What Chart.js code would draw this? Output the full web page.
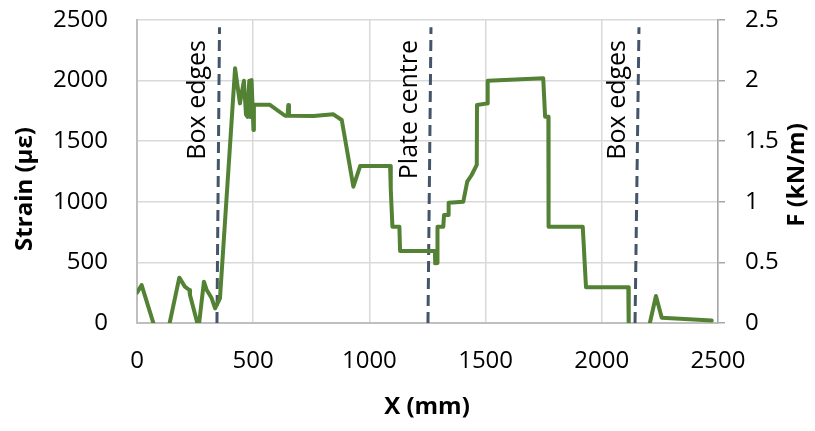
<!DOCTYPE html>
<html>
<head>
<meta charset="utf-8">
<script src="https://cdn.jsdelivr.net/npm/chart.js@4"></script>
<style>
  body { margin: 0; background: #fff; }
</style>
</head>
<body>
<canvas id="myChart" width="815" height="431"></canvas>
<script>
// position along the plate (mm) and measured strain (microstrain)
const xValues = [0, 20, 80, 135, 182, 206, 225, 228, 265, 288, 300, 321, 336, 357, 422, 443, 460, 469, 476, 483,
  488, 493, 501, 503, 572, 637, 648, 651, 654, 759, 845, 881, 931, 960, 1089, 1092, 1099, 1129, 1132, 1282,
  1283, 1292, 1293, 1318, 1321, 1340, 1341, 1404, 1421, 1440, 1462, 1463, 1508, 1509, 1748, 1756, 1770, 1771, 1918, 1932,
  2114, 2116, 2195, 2233, 2258, 2473];
const strainValues = [250, 313, -60, -50, 374, 300, 272, 231, -40, 341, 272, 206, 121, 204, 2101, 1812, 1999, 1720, 1700, 1999,
  1700, 2005, 1592, 1800, 1800, 1710, 1710, 1798, 1710, 1707, 1722, 1675, 1125, 1295, 1295, 1100, 795, 795, 594, 594,
  492, 495, 795, 795, 891, 891, 993, 1001, 1166, 1221, 1304, 1799, 1812, 1999, 2019, 1702, 1702, 795, 795, 295,
  295, -100, -100, 223, 44, 20];

// vertical dashed markers (bottom x, top x)
const markerNames = ["Box edges", "Plate centre", "Box edges"];
const markerBottomX = [344, 1252, 2143];
const markerTopX = [355, 1265, 2160];
const markerY = [0, 2440];
const markerLabelX = [262, 1175, 2070];
const markerLabelTop = 2335;

const xTicks = [0, 500, 1000, 1500, 2000, 2500];
const strainTicks = [0, 500, 1000, 1500, 2000, 2500];
const forceTicks = [0, 0.5, 1, 1.5, 2, 2.5];

const fontName = "'Open Sans', 'Liberation Sans', sans-serif";

const strainData = xValues.map((x, i) => ({ x: x, y: strainValues[i] }));

const datasets = [
  {
    label: "Strain",
    data: strainData,
    borderColor: "#548235",
    borderWidth: 4,
    borderJoinStyle: "round",
    borderCapStyle: "round",
    pointRadius: 0,
    tension: 0,
    yAxisID: "y",
  },
];
markerNames.forEach((name, i) => {
  datasets.push({
    label: name,
    data: [
      { x: markerBottomX[i], y: markerY[0] },
      { x: markerTopX[i], y: markerY[1] },
    ],
    borderColor: "#44546A",
    borderWidth: 3,
    borderDash: [11, 6],
    pointRadius: 0,
    yAxisID: "y",
  });
});

// fixed box sizes so the plot area lands where it is in the original
function fixBox(size) {
  return (s) => {
    if (s.isHorizontal()) s.height = size;
    else s.width = size;
    s.paddingTop = 0;
    s.paddingBottom = 0;
    s.paddingLeft = 0;
    s.paddingRight = 0;
  };
}

const textPlugin = {
  id: "texts",
  afterDraw(chart) {
    const ctx = chart.ctx;
    const xs = chart.scales.x;
    const ys = chart.scales.y;
    ctx.save();
    ctx.fillStyle = "#000";

    // marker labels, rotated
    ctx.font = "25px " + fontName;
    ctx.textAlign = "right";
    ctx.textBaseline = "middle";
    markerNames.forEach((name, i) => {
      ctx.save();
      ctx.translate(xs.getPixelForValue(markerLabelX[i]), ys.getPixelForValue(markerLabelTop));
      ctx.rotate(-Math.PI / 2);
      ctx.fillText(name, 0, 0);
      ctx.restore();
    });

    // axis titles
    ctx.font = "bold 24px " + fontName;
    ctx.textAlign = "center";
    ctx.fillText("X (mm)", 427, 407);

    ctx.save();
    ctx.translate(25, 189);
    ctx.rotate(-Math.PI / 2);
    ctx.fillText("Strain (\u03bc\u03b5)", 0, 0);
    ctx.restore();

    ctx.save();
    ctx.translate(797, 175);
    ctx.rotate(-Math.PI / 2);
    ctx.fillText("F (kN/m)", 0, 0);
    ctx.restore();

    ctx.restore();
  },
};

const config = {
  type: "line",
  data: { datasets },
  options: {
    responsive: false,
    animation: false,
    devicePixelRatio: 1,
    layout: { padding: { top: 20, left: 0, right: 0, bottom: 0 } },
    plugins: {
      legend: { display: false },
      tooltip: { enabled: false },
    },
    scales: {
      x: {
        type: "linear",
        min: 0,
        max: 2500,
        afterBuildTicks: (s) => { s.ticks = xTicks.map((v) => ({ value: v })); },
        afterFit: fixBox(108),
        ticks: {
          color: "#000",
          font: { family: fontName, size: 24 },
          padding: 24,
          maxRotation: 0,
          callback: (v) => String(v),
        },
        grid: { color: "#d9d9d9", lineWidth: 1.5, drawTicks: false },
        border: { color: "#bfbfbf", width: 2 },
      },
      y: {
        position: "left",
        min: 0,
        max: 2500,
        afterBuildTicks: (s) => { s.ticks = strainTicks.map((v) => ({ value: v })); },
        afterFit: fixBox(137),
        ticks: {
          color: "#000",
          font: { family: fontName, size: 24 },
          padding: 29,
          callback: (v) => String(v),
        },
        grid: { color: "#d9d9d9", lineWidth: 1.5, drawTicks: false },
        border: { color: "#bfbfbf", width: 2 },
      },
      y2: {
        position: "right",
        min: 0,
        max: 2.5,
        afterBuildTicks: (s) => { s.ticks = forceTicks.map((v) => ({ value: v })); },
        afterFit: fixBox(97),
        ticks: {
          color: "#000",
          font: { family: fontName, size: 24 },
          padding: 20,
          callback: (v) => String(v),
        },
        grid: { drawOnChartArea: false, color: "#a6a6a6", tickLength: 7, lineWidth: 1.5 },
        border: { color: "#a6a6a6", width: 1.5 },
      },
    },
  },
  plugins: [textPlugin],
};

const myChart = new Chart(document.getElementById("myChart"), config);
</script>
</body>
</html>
